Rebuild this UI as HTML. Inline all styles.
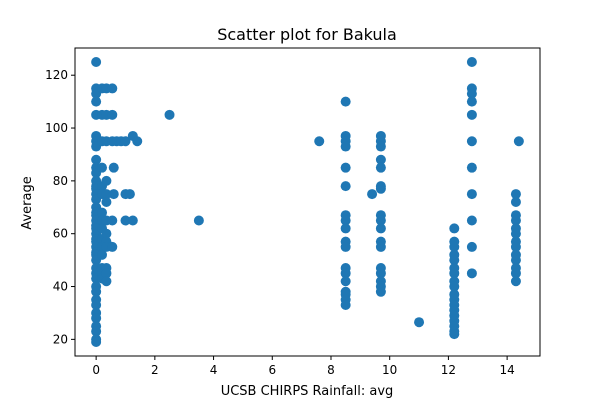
<!DOCTYPE html>
<html><head><meta charset="utf-8"><style>
body{margin:0;background:#fff;}
svg{display:block;font-family:"DejaVu Sans","Liberation Sans",sans-serif;}
</style></head><body>
<svg id="chart" width="600" height="400">
<text x="307" y="40" text-anchor="middle" font-size="16">Scatter plot for Bakula</text>
<g id="marks"></g>
<g id="axes"></g>
<text x="307" y="395" text-anchor="middle" font-size="13">UCSB CHIRPS Rainfall: avg</text>
<text transform="translate(31,203) rotate(-90)" text-anchor="middle" font-size="13">Average</text>
</svg>
<script>
const xTicks=[0,2,4,6,8,10,12,14];
const yTicks=[20,40,60,80,100,120];
const xs=[
0,0,0,0,0,0,0,0,0,0,0,0,0,0,0,0,0,0,0,0,0,0,0,0,0,0,0,0,0,0,0,0,0,0,0,0,0,0,0,0,0,0,
0.2,0.2,0.2,0.2,0.2,0.2,0.2,0.2,0.2,0.2,0.2,0.2,0.2,0.2,0.2,
0.35,0.35,0.35,0.35,0.35,0.35,0.35,0.35,0.35,0.35,0.35,0.35,0.35,
0.55,0.55,0.55,0.55,0.55,0.6,0.6,0.7,0.85,1.0,1.0,1.0,1.15,1.25,1.25,1.4,2.5,3.5,
8.5,8.5,8.5,8.5,8.5,8.5,8.5,8.5,8.5,8.5,8.5,8.5,8.5,8.5,8.5,8.5,8.5,8.5,
9.7,9.7,9.7,9.7,9.7,9.7,9.7,9.7,9.7,9.7,9.7,9.7,9.7,9.7,9.7,9.7,9.7,
9.4,7.6,11,
12.2,12.2,12.2,12.2,12.2,12.2,12.2,12.2,12.2,12.2,12.2,12.2,12.2,12.2,12.2,12.2,12.2,12.2,
12.8,12.8,12.8,12.8,12.8,12.8,12.8,12.8,12.8,12.8,12.8,
14.3,14.3,14.3,14.3,14.3,14.3,14.3,14.3,14.3,14.3,14.3,14.3,14.3,14.4];
const ys=[
125,115,113,110,105,97,95,93,88,85,83,80,78,77,75,73,70,68,67,65,63,62,60,58,57,55,53,52,50,47,45,43,40,38,35,33,30,28,25,23,20,19,
115,105,95,85,78,75,68,65,62,58,55,52,47,45,43,
115,105,95,80,75,72,65,60,57,55,47,45,42,
115,105,95,65,55,85,75,95,95,95,75,65,75,97,65,95,105,65,
110,97,95,93,85,78,67,65,62,57,55,47,45,42,38,37,35,33,
97,95,93,88,85,78,77,67,65,62,57,55,47,45,42,40,38,
75,95,26.5,
62,57,55,52,50,47,45,42,40,37,35,33,31,29,27,25,23,22,
125,115,113,110,105,95,85,75,65,55,45,
75,72,67,65,62,60,57,55,52,50,47,45,42,95];
const L=75,R=540,T=48,B=356,xMin=-0.72,xMax=15.12,yMin=13.7,yMax=130.3;
const X=v=>L+(v-xMin)/(xMax-xMin)*(R-L);
const Y=v=>B-(v-yMin)/(yMax-yMin)*(B-T);
const NS="http://www.w3.org/2000/svg";
const marks=document.getElementById('marks'),axes=document.getElementById('axes');
function mk(tag,at,parent){const e=document.createElementNS(NS,tag);for(const k in at)e.setAttribute(k,at[k]);parent.appendChild(e);return e;}
for(let i=0;i<xs.length;i++){
const c=mk('circle',{cx:X(xs[i]),cy:Y(ys[i]),r:5,fill:'#1f77b4'},marks);


}
const f=mk('rect',{x:L,y:T,width:R-L,height:B-T,fill:'none',stroke:'#000','stroke-width':1},axes);


xTicks.forEach(t=>{const x=X(t);
mk('line',{x1:x,x2:x,y1:B,y2:B+4,stroke:'#000'},axes);
const tx=mk('text',{x:x,y:B+18,'text-anchor':'middle','font-size':12},axes);tx.textContent=t;

});
yTicks.forEach(t=>{const y=Y(t);
mk('line',{x1:L-4,x2:L,y1:y,y2:y,stroke:'#000'},axes);
const tx=mk('text',{x:L-7,y:y+4,'text-anchor':'end','font-size':12},axes);tx.textContent=t;

});
</script>
</body></html>
